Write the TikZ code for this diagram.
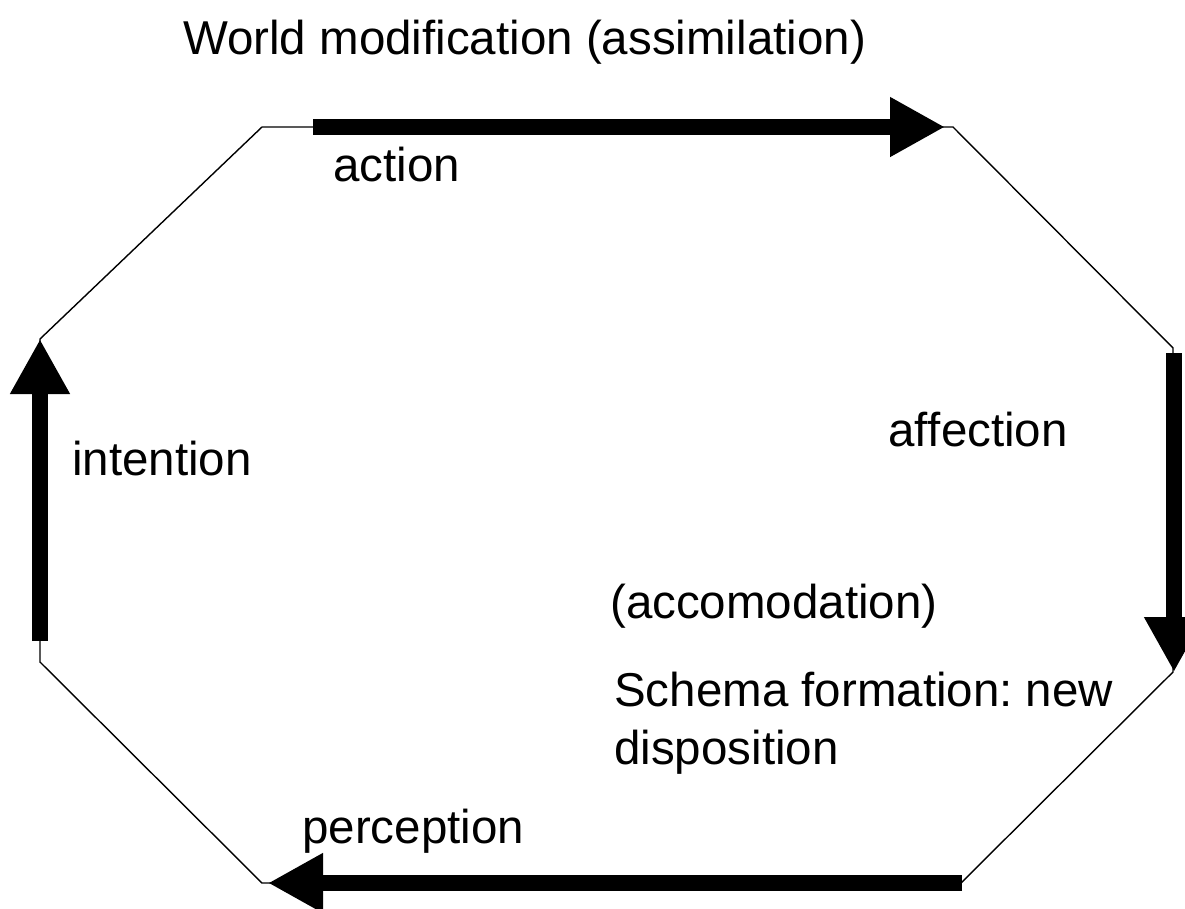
\documentclass[tikz,border=0pt]{standalone}
\usepackage{fontspec}
\setmainfont[Ligatures={NoCommon}]{Liberation Sans}
\usetikzlibrary{arrows.meta}
\tikzset{
  oct/.style={line width=1.4pt, line join=miter},
  bigarrow/.style={line width=16pt, -{Triangle[length=55pt,width=56pt]}},
  lbl/.style={anchor=base west, inner sep=0pt, font=\fontsize{47.5}{58}\selectfont},
}
\begin{document}
\frenchspacing
\begin{tikzpicture}[x=1pt,y=-1pt]
\useasboundingbox (0,0) rectangle (1185,908);
% octagon vertices
\coordinate (v1) at (262,127);
\coordinate (v2) at (953,127);
\coordinate (v3) at (1173,348);
\coordinate (v4) at (1173,672);
\coordinate (v5) at (961,883);
\coordinate (v6) at (262,883);
\coordinate (v7) at (40,662);
\coordinate (v8) at (40,339);
\draw[oct] (v1) -- (v2) -- (v3) -- (v4) -- (v5) -- (v6) -- (v7) -- (v8) -- cycle;
% arrow end points
\coordinate (a1s) at (313,127);
\coordinate (a1e) at (945,127);
\coordinate (a2s) at (1174,353);
\coordinate (a2e) at (1174,672);
\coordinate (a3s) at (962,883);
\coordinate (a3e) at (268,883);
\coordinate (a4s) at (40,641);
\coordinate (a4e) at (40,339);
\draw[bigarrow] (a1s) -- (a1e);
\draw[bigarrow] (a2s) -- (a2e);
\draw[bigarrow] (a3s) -- (a3e);
\draw[bigarrow] (a4s) -- (a4e);
% labels
\node[lbl] (title) at (183,54) {World modification (assimilation)};
\node[lbl] (action) at (333,181) {action};
\node[lbl] (affection) at (888,446) {af\kern0pt fection};
\node[lbl] (intention) at (72,475) {intention};
\node[lbl] (accom) at (610,618) {(accomodation)};
\node[lbl] (schema1) at (614,706) {Schema formation: new};
\node[lbl] (schema2) at (614,764) {disposition};
\node[lbl] (perception) at (302,843) {perception};
\end{tikzpicture}
\end{document}
